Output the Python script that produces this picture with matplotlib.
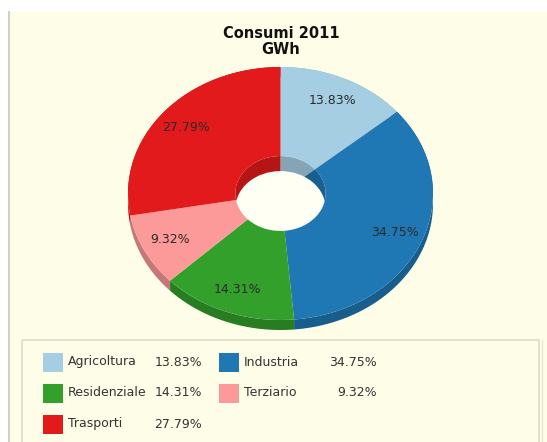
import numpy as np
import matplotlib
matplotlib.use("Agg")
import matplotlib.pyplot as plt
import matplotlib.patches as mpatches
from matplotlib.colors import to_rgb

# Energy consumption by sector, 2011 (percent of total GWh)
sectors = ["Agricoltura", "Industria", "Residenziale", "Terziario", "Trasporti"]
shares = [13.83, 34.75, 14.31, 9.32, 27.79]
colors = ["#a6cee3", "#1f78b4", "#33a02c", "#fb9a99", "#e31a1c"]

title = "Consumi 2011\nGWh"

W, H = 547, 442
cream = "#fefee8"
hole_col = "#fffff4"
text_col = "#2a2a2a"


def darker(c, f=0.78):
    return tuple(v * f for v in to_rgb(c))


fig = plt.figure(figsize=(W / 100, H / 100), dpi=100)
fig.patch.set_facecolor("white")

# background layer in pixel coordinates (y grows downwards)
bg = fig.add_axes([0, 0, 1, 1])
bg.set_xlim(0, W)
bg.set_ylim(H, 0)
bg.axis("off")
bg.add_patch(mpatches.Rectangle((9, 12), W - 9, H - 12, facecolor=cream, edgecolor="none"))
bg.plot([8.5, 8.5], [12, H], color="#c8c8c0", lw=1.2)

# legend box
bg.add_patch(mpatches.Rectangle((22, 340), 517, 110, facecolor="none",
                                edgecolor="#dcdcc8", lw=1.2))
bg.plot([541.5, 541.5], [340, H], color="#e6e6d6", lw=1)

# legend entries: two columns, filled row by row
col_x = [43, 219]
val_x = [202, 377]
row_y = [362, 393, 424]
for i, (name, val, c) in enumerate(zip(sectors, shares, colors)):
    r, k = divmod(i, 2)
    x0, y0 = col_x[k], row_y[r]
    bg.add_patch(mpatches.Rectangle((x0, y0 - 9.5), 20, 19, facecolor=c, edgecolor="none"))
    bg.text(x0 + 25, y0, name, ha="left", va="center", fontsize=9, color="#333333")
    bg.text(val_x[k], y0, f"{val:.2f}%", ha="right", va="center", fontsize=9, color="#333333")

fig.text(281 / W, 1 - 41.5 / H, title, ha="center", va="center", fontsize=10.5,
         fontweight="bold", color="#111111", linespacing=1.15)

# pie axes: unit radius maps to 152.5 px across and 126.5 px down
cx, cy = 280.5, 193.5
rx, ry = 152.5, 126.5
bw, bh = 170, 150
ax = fig.add_axes([(cx - bw) / W, (H - cy - bh) / H, 2 * bw / W, 2 * bh / H])
ax.patch.set_alpha(0)

r_in = 0.296
depth = 10 / ry
hole_depth = 15 / ry

wedges, texts, autotexts = ax.pie(
    shares, colors=colors, startangle=90, counterclock=False, radius=1,
    autopct="%.2f%%", pctdistance=0.81,
    wedgeprops=dict(width=1 - r_in, linewidth=0),
    textprops=dict(fontsize=9, color=text_col),
)
for w in wedges:
    w.set_zorder(3)
for t in autotexts:
    t.set_zorder(4)

# side walls: outer rim extruded downwards, inner rim seen through the hole
edges = 90 - 360 * np.concatenate([[0], np.cumsum(shares)]) / sum(shares)
for i, c in enumerate(colors):
    t0, t1 = edges[i], edges[i + 1]
    th = np.radians(np.linspace(t1, t0, 80))
    xs = np.concatenate([np.cos(th), np.cos(th[::-1])])
    ys = np.concatenate([np.sin(th), np.sin(th[::-1]) - depth])
    ax.fill(xs, ys, color=darker(c), lw=0, zorder=1)
    ax.add_patch(mpatches.Wedge((0, 0), r_in, t1, t0, facecolor=darker(c, 0.8),
                                edgecolor="none", zorder=1.5))
ax.add_patch(mpatches.Ellipse((0, -hole_depth), 2 * r_in, 2 * r_in, facecolor=hole_col,
                              edgecolor="none", zorder=2))

ax.set_xlim(-bw / rx, bw / rx)
ax.set_ylim(-bh / ry, bh / ry)
ax.set_aspect("auto")
ax.axis("off")

fig.savefig("out.png", dpi=100, facecolor=fig.get_facecolor())
